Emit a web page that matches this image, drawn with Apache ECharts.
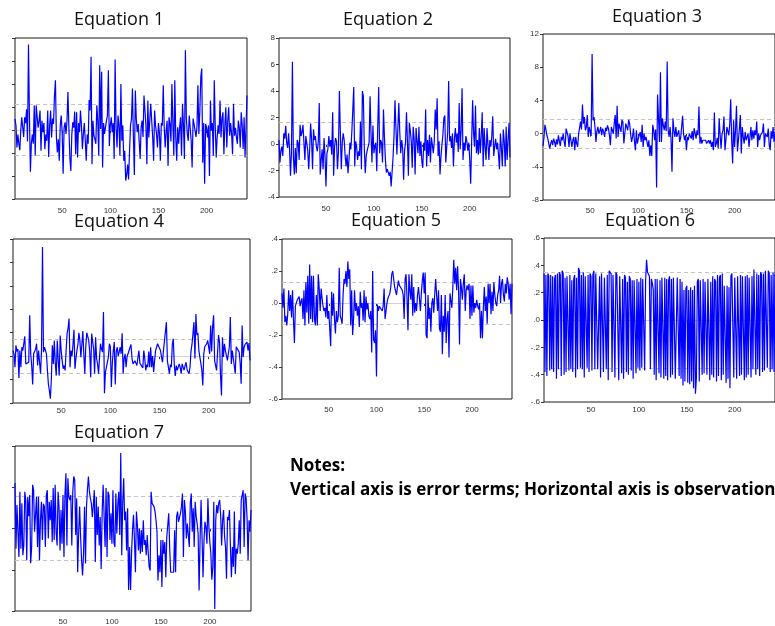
<!DOCTYPE html>
<html>
<head>
<meta charset="utf-8">
<script src="https://cdn.jsdelivr.net/npm/echarts@6.0.0/dist/echarts.min.js"></script>
<style>
  html, body { margin: 0; padding: 0; background: #fff; }
  #chart { width: 775px; height: 626px; }
</style>
</head>
<body>
<div id="chart"></div>
<script>
// residuals, observations 1..242
const eq1 = [
  0.48, 0.2, -0.76, -0.2, -0.6, -0.88, 0.0, 0.55, 0.63, -0.3,
  0.55, 0.3, 0.9, -0.5, 3.72, 0.6, -1.81, -0.58, -0.2, -0.6,
  1.07, -1.12, 1.07, 1.07, 0.1, 0.4, 0.85, -0.9, 0.4, -0.1,
  0.3, -0.83, -0.2, -0.47, 0.85, -1.17, 0.2, 0.85, -0.32, 0.5,
  0.26, 1.5, 2.16, -0.3, -0.98, -0.4, -1.34, 0.2, 0.63, -0.1,
  -1.9, 0.1, 0.33, -0.17, 0.4, 1.65, 0.1, -1.2, -1.78, -0.2,
  0.33, 0.1, 0.8, -1.05, 0.77, -1.2, 0.3, -0.1, 0.85, 0.2,
  -0.83, -0.17, 0.3, -0.47, -1.34, -0.2, -0.6, 1.3, 0.85, 3.18,
  -1.49, 0.4, -0.25, -0.4, -0.6, 1.07, 0.4, -1.12, 2.82, 0.04,
  2.53, -1.63, 0.3, -0.17, -0.1, 0.4, 0.63, 2.6, -0.69, 0.2,
  0.55, -0.1, 0.3, -1.26, 3.07, 0.1, -0.76, 0.63, 0.2, -1.12,
  2.0, -0.47, 0.2, -1.34, -0.9, -2.2, -1.93, -1.5, -2.15, -0.9,
  0.2, 0.48, 1.8, -0.3, -1.96, 1.72, 0.5, -0.1, 0.26, 0.19,
  -1.26, 0.1, 0.41, -0.3, 1.5, 1.57, 0.2, -1.49, 1.28, -0.32,
  0.4, 1.14, 0.41, -0.3, -1.34, 0.85, 0.2, -0.17, -0.76, 0.3,
  -0.1, -1.34, 0.3, 0.19, 1.94, 0.1, -0.76, -0.03, 0.4, -1.56,
  0.55, 0.26, -0.5, 2.0, 0.3, -1.12, 2.16, -0.3, -1.34, 0.12,
  -0.6, 0.1, 0.55, -1.12, 1.14, 0.2, -1.26, 3.47, 0.5, -0.17,
  -0.47, 0.63, 0.1, -0.47, -1.63, 0.5, 0.26, 0.26, -0.3, 0.12,
  1.94, -0.17, 0.8, 2.3, 2.67, -1.42, 0.3, -2.34, 0.26, 0.1,
  -0.32, 0.2, -2.0, 1.28, -0.03, 0.3, -1.12, 2.16, 0.2, -1.2,
  -0.32, 0.2, -0.17, 1.28, -0.32, 0.5, 0.77, -1.05, 0.2, 0.99,
  -0.76, 0.4, 0.99, -0.25, 0.3, -0.17, -1.05, 1.14, -0.25, 0.1,
  -0.32, -0.6, 0.41, 0.1, -0.76, 0.77, 0.2, -0.83, 0.55, -1.2,
  0.12, 1.5
];
const eq2 = [
  0.3, -1.4, -0.5, -0.2, -0.9, 0.8, 0.4, 1.38, 0.1, -0.3,
  0.8, -0.4, -2.4, -0.6, 6.2, -1.0, -2.3, -0.3, -2.2, 0.3,
  0.1, -1.2, 1.45, 0.6, 0.9, 1.45, 1.55, -1.2, 0.6, 0.45,
  -0.5, -1.9, -0.4, 1.55, 0.3, -1.9, 1.1, 0.3, 0.6, -0.2,
  -0.55, 0.2, 3.1, -2.3, -1.2, -0.4, -1.9, 0.45, -0.9, -3.2,
  -0.7, -0.4, 0.6, -0.2, 0.3, -0.8, 2.4, -2.4, -0.2, 0.45,
  0.2, -1.9, -0.6, 4.0, 0.9, -1.9, 0.1, 0.8, 0.3, -0.9,
  -1.7, -0.8, -2.2, -1.2, 0.1, -0.4, 0.95, 1.0, 4.3, -1.7,
  0.2, -0.2, -1.2, -0.55, -0.9, 1.7, -1.9, 4.0, 3.6, -0.3,
  -2.2, -0.9, -0.5, -0.2, 0.1, 3.6, 0.8, -1.4, 1.4, -0.7,
  -0.2, 0.1, -2.05, 1.2, 4.3, -0.7, 0.3, 0.1, -1.4, 2.6,
  0.5, -1.2, -2.15, -1.9, -2.0, -2.4, -2.1, -3.2, -2.1, -1.0,
  0.6, 3.3, 1.2, -0.8, -0.9, 3.1, 0.9, -0.7, 0.3, -0.3,
  -2.7, -0.5, 0.1, 2.4, 0.2, -2.4, 1.6, 1.0, 0.2, -1.8,
  1.3, 0.4, -2.3, 1.2, 0.2, -0.7, 1.3, -0.9, 0.2, -1.3,
  -1.8, 0.1, -0.5, 2.6, -1.7, 0.3, -0.9, 0.7, -1.4, 0.5,
  -0.05, -0.7, 0.2, 2.6, 1.1, 3.45, -0.9, 0.2, -2.3, -0.9,
  -0.05, 0.7, 1.95, 2.15, -1.4, -0.2, 0.9, 4.75, 0.2, 0.6,
  -0.3, 0.8, -1.7, 0.4, 1.2, 0.1, 0.8, -0.6, 3.1, -0.4,
  1.0, 4.2, -1.2, 0.1, -0.5, 0.6, 0.2, -0.5, 0.1, -1.2,
  -3.0, 0.2, 3.3, 0.8, -0.2, 2.9, -0.7, 0.3, -0.8, 1.2,
  -0.7, 0.6, 2.4, -1.7, 1.2, -0.2, -1.2, 1.2, 0.0, -1.2,
  0.3, -0.2, 0.6, 2.1, -0.9, -0.2, 0.4, -0.4, 0.1, -0.8,
  -1.9, 0.8, -0.3, -1.7, 1.1, 0.2, -1.7, 1.3, -1.2, 0.3,
  1.6, -1.0
];
const eq3 = [
  -1.5, -0.5, 1.05, 0.5, -0.2, -0.6, -0.4, -1.8, -1.2, -0.8,
  -1.4, -0.6, -1.0, -1.6, -0.7, -1.3, -0.2, -0.9, -1.5, -0.4,
  -0.8, 0.0, -1.0, -1.6, 0.6, 0.6, -0.3, -1.6, 0.0, -0.2,
  -1.6, -0.8, -0.4, -2.0, -0.4, -1.2, -1.6, 0.0, 0.7, 1.45,
  0.5, 3.5, 1.2, 2.0, 0.4, 0.8, 2.25, -0.4, 0.8, 1.0,
  -0.3, 9.6, 1.6, 2.0, 0.8, -1.0, 0.3, 0.8, 0.0, 0.3,
  0.8, -0.2, 0.6, 0.2, -0.4, 0.7, 0.3, 1.0, 0.6, -0.2,
  -1.4, 0.8, 0.4, 0.0, 1.2, 2.25, -0.6, 3.35, -0.4, 1.2,
  1.2, 0.2, 1.65, 1.4, -1.2, -1.2, 1.2, 1.0, 0.4, 1.65,
  1.2, 0.0, -1.0, -0.4, 0.6, -0.9, -2.0, 0.4, -1.2, -0.6,
  -0.4, 0.2, -1.0, 1.05, -1.6, 0.0, -0.8, -0.4, -0.3, -1.6,
  -0.8, -2.7, -1.4, -2.7, 1.05, 0.4, -0.8, 0.5, -6.5, 4.7,
  4.75, -1.0, 7.4, -1.0, 1.85, 1.0, 0.4, 1.45, 0.3, 8.7,
  0.4, -0.4, 0.8, -0.6, -4.6, 1.85, 0.4, -0.4, 0.8, -0.4,
  0.0, 0.4, -1.0, -0.5, 0.8, 2.15, 0.0, -0.8, -0.2, -2.0,
  -0.4, -0.8, 0.0, 0.2, -0.6, 0.3, -0.8, 0.65, 0.8, -0.6,
  0.4, -0.2, 3.25, -1.2, -0.4, -1.2, -0.8, -1.0, -1.0, -0.8,
  -1.2, -1.2, -0.8, -1.2, -0.8, -1.6, -1.0, -2.0, 2.55, -1.6,
  -1.2, -0.5, -1.8, 1.85, -0.2, -1.8, 0.0, 0.4, 2.05, -2.0,
  -0.8, 0.8, 0.6, -0.2, 1.2, 4.15, -0.8, -3.6, 1.6, -1.6,
  0.4, 3.35, -2.15, -0.8, 0.6, 2.25, -2.4, 0.8, -0.4, -1.2,
  0.2, -0.8, -0.4, 0.0, -1.6, -0.4, 0.8, -0.8, 0.4, -0.6,
  0.4, -0.2, 1.45, -1.6, 0.0, -0.8, -0.2, -0.4, 0.2, 1.2,
  -1.6, 0.0, 0.2, -0.4, 0.6, -1.4, -2.0, 0.3, -0.6, 0.8,
  -1.0, 0.2
];
const eq4 = [
  0.24, 0.1, -0.47, 0.46, 0.2, 0.3, -0.93, 0.24, -0.47, 0.38,
  0.24, 0.27, 0.85, -0.33, -0.33, -0.4, -0.26, 1.74, 0.1, -0.4,
  -1.21, 0.1, 0.1, 0.3, 0.53, -0.4, 0.24, 0.3, -0.75, 0.24,
  4.66, 0.17, 0.38, 0.24, 0.1, -0.6, -1.2, -1.47, -1.82, -1.0,
  0.46, -0.33, 0.67, -0.3, -0.83, 0.67, -0.18, -0.83, 0.88, 0.24,
  -0.18, -0.54, -0.4, -0.61, 0.24, 0.96, 1.2, 1.6, -0.47, 0.24,
  0.0, 0.5, 1.13, -0.54, -0.1, 0.24, 0.5, 1.0, 0.67, -0.05,
  0.5, 1.07, 0.1, -0.75, 0.4, 1.0, 0.98, 0.67, 0.2, -0.9,
  0.96, 1.0, 0.3, -0.75, 0.81, -0.1, -0.33, -0.75, -0.04, 0.53,
  0.3, 0.17, 1.88, -1.58, -0.68, -0.7, -0.75, -0.04, 0.53, 0.4,
  -1.32, -0.3, 0.24, 0.6, -1.21, 0.2, 0.38, 0.0, -0.04, 0.38,
  0.1, 0.98, -0.75, -0.1, 0.1, -0.47, 0.0, 0.1, 0.24, 0.38,
  0.5, -0.1, -0.33, -0.33, -0.2, -0.26, -0.4, -0.33, 0.24, -0.3,
  -0.3, -0.33, -0.5, 0.24, -0.1, -0.61, -0.36, -0.47, 0.2, -0.47,
  0.38, -0.47, 0.0, -0.68, -0.2, 0.24, 0.38, 0.53, 0.6, 0.6,
  0.24, -0.04, -0.26, 0.24, 0.24, 0.24, 1.45, -0.2, -0.47, -0.75,
  -0.36, -0.47, 0.5, 0.74, -0.36, -0.85, -0.4, -0.6, -0.61, -0.33,
  -0.47, -0.75, -0.33, -0.47, -0.6, -0.4, -0.26, -0.58, -0.6, -0.75,
  -0.47, 0.2, 0.5, 0.53, 1.45, -0.1, 1.8, 0.9, 1.0, 0.24,
  -0.04, -0.3, -0.6, -1.25, 0.1, 0.4, 0.4, 0.53, 0.67, 0.38,
  0.1, 1.31, 0.2, 1.27, 1.74, -0.18, -0.4, -0.61, -0.68, 0.9,
  0.6, -0.8, -1.68, 0.81, -0.04, 0.53, 0.24, 0.3, -0.18, -0.11,
  0.4, 1.67, -0.33, 0.24, 0.17, 0.17, -0.75, 0.4, 0.38, 0.38,
  0.17, -0.3, -1.18, 1.31, -0.04, 0.38, 0.5, 0.53, 0.6, 0.24,
  0.56, -0.18
];
const eq5 = [
  0.06, -0.03, 0.09, -0.12, -0.08, -0.14, -0.07, 0.08, -0.05, 0.05,
  -0.09, 0.08, -0.1, -0.25, -0.02, -0.01, 0.02, 0.03, 0.04, -0.02,
  0.01, 0.03, -0.1, 0.08, -0.14, 0.13, -0.06, 0.17, -0.13, 0.24,
  -0.1, 0.17, -0.12, 0.17, -0.1, -0.14, 0.05, -0.14, 0.18, 0.09,
  -0.05, 0.09, 0.03, -0.02, -0.05, -0.03, -0.09, 0.05, -0.1, -0.05,
  -0.05, -0.27, 0.07, -0.08, 0.06, -0.1, -0.19, -0.05, -0.12, -0.08,
  0.22, -0.08, -0.1, -0.13, 0.05, 0.15, 0.12, 0.2, 0.1, 0.26,
  0.15, 0.21, -0.14, 0.08, -0.2, -0.1, 0.08, -0.05, 0.0, -0.08,
  -0.02, -0.15, 0.07, -0.03, 0.0, -0.11, 0.08, -0.12, 0.04, -0.04,
  0.0, -0.08, -0.1, -0.05, -0.31, 0.2, -0.23, -0.25, -0.17, -0.46,
  -0.01, -0.05, -0.02, -0.03, -0.02, -0.05, -0.02, 0.09, -0.1, -0.05,
  0.0, 0.03, 0.04, 0.06, 0.1, 0.18, 0.2, 0.15, 0.1, 0.11,
  0.05, 0.1, 0.14, 0.11, 0.1, 0.12, 0.08, 0.05, -0.1, 0.15,
  0.18, 0.03, -0.17, 0.18, 0.08, 0.02, 0.18, -0.08, 0.1, -0.06,
  0.0, -0.05, 0.05, 0.1, 0.03, -0.05, 0.06, 0.14, 0.19, 0.06,
  0.19, -0.2, -0.22, 0.05, -0.1, -0.03, -0.18, 0.0, 0.03, -0.06,
  0.05, 0.15, 0.14, -0.05, 0.08, -0.16, -0.18, 0.05, -0.32, -0.08,
  -0.18, 0.05, -0.25, -0.1, -0.05, -0.34, 0.06, 0.05, -0.03, 0.1,
  0.27, 0.12, 0.22, 0.08, 0.23, 0.08, -0.26, 0.15, 0.1, 0.02,
  0.12, 0.18, -0.05, 0.08, 0.11, 0.08, 0.12, -0.1, 0.11, -0.08,
  0.11, -0.06, 0.0, -0.03, 0.02, -0.02, -0.04, 0.0, -0.22, -0.05,
  -0.22, -0.03, 0.1, -0.05, 0.04, -0.13, 0.12, 0.0, 0.12, -0.07,
  0.07, -0.05, 0.13, 0.05, 0.0, -0.02, 0.05, 0.08, 0.17, 0.0,
  0.12, 0.15, 0.05, 0.01, 0.12, 0.06, 0.16, 0.12, 0.02, 0.12,
  -0.07, 0.12
];
const eq6 = [
  0.34, -0.38, 0.33, -0.41, 0.34, 0.32, -0.37, 0.33, -0.36, 0.32,
  -0.38, 0.30, 0.33, -0.43, 0.34, -0.36, 0.35, 0.33, -0.41, 0.36,
  0.34, -0.40, 0.31, -0.38, 0.32, 0.31, -0.37, 0.33, -0.36, 0.29,
  -0.38, 0.30, 0.33, -0.42, 0.31, -0.36, 0.38, 0.36, -0.35, 0.33,
  -0.36, 0.35, -0.42, 0.32, 0.31, -0.35, 0.33, -0.38, 0.34, 0.32,
  -0.37, 0.33, 0.36, -0.36, 0.34, 0.35, -0.36, -0.36, 0.32, -0.42,
  0.34, 0.35, -0.38, 0.31, 0.30, -0.36, 0.33, -0.44, 0.36, 0.37,
  0.34, -0.38, 0.33, 0.32, -0.42, 0.35, 0.33, 0.32, -0.44, 0.32,
  0.31, -0.39, 0.30, -0.43, 0.33, 0.31, -0.38, 0.28, -0.40, 0.32,
  0.30, -0.37, 0.29, -0.43, 0.29, 0.28, -0.39, 0.30, -0.35, 0.28,
  -0.37, 0.31, -0.35, 0.30, 0.29, -0.37, 0.28, 0.44, 0.35, 0.34,
  0.32, -0.36, 0.30, 0.27, 0.22, -0.40, 0.30, -0.44, 0.30, 0.31,
  -0.39, 0.29, -0.42, 0.31, 0.30, -0.43, 0.31, -0.41, 0.30, -0.44,
  0.29, 0.32, -0.42, 0.30, -0.40, 0.31, 0.32, -0.43, -0.44, 0.31,
  0.32, -0.41, 0.30, -0.43, 0.28, -0.48, 0.22, -0.45, 0.23, 0.25,
  -0.46, 0.22, -0.47, 0.24, -0.45, 0.22, -0.50, 0.25, -0.54, -0.42,
  0.28, 0.30, -0.45, 0.29, 0.28, -0.40, 0.30, -0.39, 0.28, 0.29,
  -0.40, 0.30, 0.29, -0.44, 0.28, -0.40, 0.32, -0.42, 0.30, 0.28,
  -0.45, 0.33, -0.41, 0.31, 0.33, -0.44, 0.34, -0.40, 0.25, 0.24,
  -0.46, 0.25, -0.43, 0.24, -0.50, 0.32, 0.34, 0.33, -0.42, 0.31,
  0.30, -0.43, 0.32, 0.31, -0.41, 0.33, -0.40, 0.32, 0.33, -0.44,
  0.32, -0.42, 0.33, -0.40, 0.31, 0.30, -0.42, 0.32, -0.36, 0.37,
  0.36, -0.40, 0.34, -0.36, 0.33, -0.41, 0.35, 0.33, -0.38, 0.34,
  -0.37, 0.36, 0.37, -0.35, 0.36, 0.34, -0.38, 0.33, -0.36, 0.35,
  -0.38, 0.34
];
const eq7 = [
  1.10, -0.49, 0.57, 0.57, -0.69, 0.89, -0.49, 0.61, -0.65, -0.41,
  0.89, 0.69, -0.77, 0.77, 0.3, 0.81, -0.84, -0.45, 1.06, 0.93,
  -0.08, -0.12, 0.77, -0.45, 0.77, -0.77, 0.2, 0.65, -0.28, 0.6,
  0.53, -0.45, 0.81, 0.93, -0.24, 0.65, 0.2, 0.69, -0.33, 0.98,
  -0.28, 1.06, -0.08, -0.41, 0.89, 0.5, -0.53, 0.45, -0.37, 0.81,
  -0.69, 0.81, 1.34, -0.41, 1.22, 0.77, 0.69, 0.81, -0.41, 0.9,
  1.26, 1.18, -0.16, 0.73, -1.06, -0.12, 0.53, -0.2, -0.77, -1.14,
  -0.61, 0.53, -0.85, 0.53, 0.95, 1.26, 0.89, 0.73, 0.61, 0.28,
  0.57, 0.93, -0.81, 0.77, -0.16, 0.53, -0.41, 0.28, -0.98, 0.4,
  1.06, 1.02, -0.45, 0.98, -0.69, 0.89, 0.81, -0.28, 0.37, -0.37,
  0.93, -0.33, -0.45, 0.85, -0.12, 0.6, 0.89, -0.16, 1.83, -0.65,
  0.61, 1.22, 0.2, 0.41, -0.53, 0.49, -1.49, -0.45, -1.49, -0.61,
  -0.04, 0.33, -0.28, -1.06, 0.41, 0.08, -0.53, 0.0, -0.61, -0.04,
  -0.57, 0.2, -0.4, -0.28, -0.65, -0.16, -0.57, -0.93, -1.02, 0.89,
  0.61, 0.57, 0.53, 0.41, 0.2, -0.08, -1.26, -0.65, -1.06, -0.28,
  -1.42, -0.28, -0.61, -0.33, -1.18, -0.2, -0.24, 0.37, -0.5, -1.06,
  -1.1, -1.06, -1.06, -0.04, -1.06, 0.28, 0.41, 0.16, 0.2, 0.37,
  0.53, 0.85, -0.69, 0.69, 0.41, -0.24, 0.12, -0.16, -0.45, 0.61,
  0.85, -0.08, 0.49, -0.45, 0.65, 0.3, 0.12, -0.12, -1.5, -0.28,
  0.69, -0.2, -1.18, -0.28, 0.16, 0.04, -0.37, 0.73, 0.04, -0.33,
  -0.61, -1.24, -0.93, 0.65, -1.95, 0.2, 0.57, 0.37, 0.61, 0.69,
  0.33, -0.41, 0.2, 0.45, -0.2, -0.45, -1.22, 0.28, 0.2, 0.45,
  -0.45, -1.18, -0.45, -0.93, 0.41, -1.1, -0.49, -0.61, -0.37, 0.2,
  -0.61, 0.69, 0.69, 0.93, -0.45, 0.85, 0.73, 0.24, -0.77, 0.2,
  -0.08, 0.45
];

const titles = ['Equation 1', 'Equation 2', 'Equation 3', 'Equation 4', 'Equation 5', 'Equation 6', 'Equation 7'];
const residuals = [eq1, eq2, eq3, eq4, eq5, eq6, eq7];
// +/- one standard error band (dashed lines)
const bands = [1.1, 1.62, 1.75, 0.74, 0.125, 0.35, 0.77];
const yMin = [-3, -4, -8, -2, -0.6, -0.6, -2];
const yMax = [4, 8, 12, 5, 0.4, 0.6, 2];
const yStep = [1, 2, 4, 1, 0.2, 0.2, 1];
const yLabels = [false, true, true, false, true, true, false];
const xTickEvery = 50;

const obs = Array.from({ length: 242 }, (_, i) => i + 1);

// panel boxes, title anchors, x-label gaps
const boxes = [
  { left: 15, top: 38, width: 232, height: 161 },
  { left: 279, top: 38, width: 231, height: 159 },
  { left: 543, top: 34, width: 235, height: 166 },
  { left: 13, top: 239, width: 237, height: 164 },
  { left: 282, top: 239, width: 230, height: 160 },
  { left: 544, top: 238, width: 236, height: 164 },
  { left: 15, top: 446, width: 236, height: 165 }
];
const titlePos = [[119, 20], [388, 20], [657, 17], [119, 222], [396, 221], [650, 221], [119, 433]];
const xLabelGap = [8, 8, 7, 4, 7, 4, 7];

function fmtTick(v, step) {
  if (step >= 1) return String(v);
  if (Math.abs(v) < 1e-9) return '.0';
  return v.toFixed(1).replace(/^(-?)0\./, '$1.');
}

const onTick = (idx, val) => Number(val) % xTickEvery === 0;

const grid = [], xAxis = [], yAxis = [], series = [], graphic = [];

residuals.forEach((vals, i) => {
  grid.push(Object.assign({
    show: true,
    borderColor: '#1a1a1a',
    borderWidth: 1,
    backgroundColor: 'transparent',
    containLabel: false
  }, boxes[i]));

  xAxis.push({
    gridIndex: i,
    type: 'category',
    data: obs,
    boundaryGap: false,
    axisLine: { show: false },
    axisTick: { show: true, length: 3, interval: onTick, lineStyle: { color: '#333' } },
    axisLabel: { interval: onTick, fontSize: 8, color: '#333', margin: xLabelGap[i], fontFamily: 'Liberation Sans' },
    splitLine: { show: false }
  });

  yAxis.push({
    gridIndex: i,
    type: 'value',
    min: yMin[i],
    max: yMax[i],
    interval: yStep[i],
    axisLine: { show: false },
    axisTick: { show: true, length: 3, lineStyle: { color: '#333' } },
    axisLabel: {
      show: yLabels[i],
      fontSize: 8,
      color: '#333',
      margin: 4,
      fontFamily: 'Liberation Sans',
      formatter: v => fmtTick(v, yStep[i])
    },
    splitLine: { show: false }
  });

  // reference lines, kept under the residual line
  series.push({
    type: 'line',
    xAxisIndex: i,
    yAxisIndex: i,
    data: [],
    z: 1,
    markLine: {
      silent: true,
      z: 1,
      symbol: ['none', 'none'],
      label: { show: false },
      animation: false,
      data: [
        { yAxis: 0, lineStyle: { type: 'solid', color: '#cfcfcf', width: 1 } },
        { yAxis: bands[i], lineStyle: { type: [4, 3], color: '#c4c4c4', width: 1 } },
        { yAxis: -bands[i], lineStyle: { type: [4, 3], color: '#c4c4c4', width: 1 } }
      ]
    }
  });

  series.push({
    name: titles[i],
    type: 'line',
    xAxisIndex: i,
    yAxisIndex: i,
    data: vals,
    z: 10,
    showSymbol: false,
    symbol: 'none',
    lineStyle: { color: '#0000ff', width: 1.2 },
    animation: false
  });

  graphic.push({
    type: 'text',
    x: titlePos[i][0],
    y: titlePos[i][1],
    style: {
      text: titles[i],
      font: '18px "Open Sans"',
      fill: '#111',
      textAlign: 'center',
      textVerticalAlign: 'middle'
    }
  });
});

graphic.push({
  type: 'text',
  x: 290,
  y: 466,
  style: { text: 'Notes:', font: 'bold 17px "Open Sans"', fill: '#000', textVerticalAlign: 'middle' }
});
graphic.push({
  type: 'text',
  x: 290,
  y: 490,
  style: {
    text: 'Vertical axis is error terms; Horizontal axis is observations',
    font: 'bold 17px "Open Sans"',
    fill: '#000',
    textVerticalAlign: 'middle'
  }
});

const chart = echarts.init(document.getElementById('chart'), null, { renderer: 'canvas' });
chart.setOption({
  backgroundColor: '#fff',
  animation: false,
  grid: grid,
  xAxis: xAxis,
  yAxis: yAxis,
  series: series,
  graphic: graphic
});
</script>
</body>
</html>
